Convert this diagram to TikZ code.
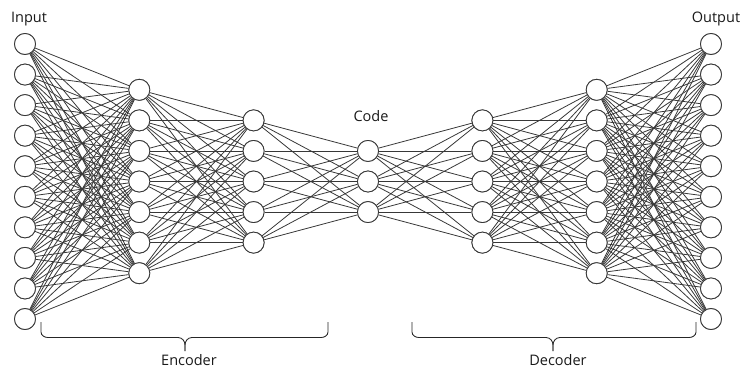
\documentclass[tikz,border=0pt]{standalone}
\usepackage{fontspec}
\setmainfont{Open Sans}
\begin{document}
\begin{tikzpicture}[x=1pt,y=-1pt,
  neuron/.style={circle,draw=black!78,fill=white,line width=0.85pt,minimum size=21pt,inner sep=0pt},
  link/.style={draw=black!78,line width=0.8pt},
  bracepath/.style={draw=black!85,line width=0.85pt},
  lbl/.style={font=\fontsize{14.5}{16}\selectfont,anchor=base,inner sep=0pt,text=black!90}]
\useasboundingbox (0,0) rectangle (745,367);
% layer sizes and horizontal positions
\def\dy{30.56}
\foreach \l/\n/\x in {1/10/25,2/7/139.3,3/5/253.6,4/3/368,5/5/482.4,6/7/596.7,7/10/711}{
  \foreach \i in {1,...,\n}{
    \node[neuron] (L\l-\i) at (\x,{181.5+(\i-(\n+1)/2)*\dy}) {};
  }
}
% fully connected links between consecutive layers
\foreach \a/\na/\b/\nb in {1/10/2/7,2/7/3/5,3/5/4/3,4/3/5/5,5/5/6/7,6/7/7/10}{
  \foreach \i in {1,...,\na}{
    \foreach \j in {1,...,\nb}{
      \path[link] (L\a-\i) -- (L\b-\j);
    }
  }
}
% neurons drawn again so they sit above the links
\foreach \l/\n/\x in {1/10/25,2/7/139.3,3/5/253.6,4/3/368,5/5/482.4,6/7/596.7,7/10/711}{
  \foreach \i in {1,...,\n}{
    \node[neuron] at (L\l-\i) {};
  }
}
% labels
\node[lbl] (tin) at (29,22) {Input};
\node[lbl] (tout) at (716,22) {Output};
\node[lbl] (tcode) at (371,121) {Code};
% braces
\draw[bracepath] (41,322) -- (41,332) to[out=270,in=180] (48,337.5) -- (178,337.5)
  to[out=0,in=90] (185,345) -- (185,351);
\draw[bracepath] (185,351) -- (185,345) to[out=90,in=180] (192,337.5) -- (321,337.5)
  to[out=0,in=270] (328,332) -- (328,322);
\draw[bracepath] (412,322) -- (412,332) to[out=270,in=180] (419,337.5) -- (546,337.5)
  to[out=0,in=90] (553,345) -- (553,351);
\draw[bracepath] (553,351) -- (553,345) to[out=90,in=180] (560,337.5) -- (689,337.5)
  to[out=0,in=270] (696,332) -- (696,322);
\node[lbl] (tenc) at (189,365) {Encoder};
\node[lbl] (tdec) at (558,365) {Decoder};
\end{tikzpicture}
\end{document}
